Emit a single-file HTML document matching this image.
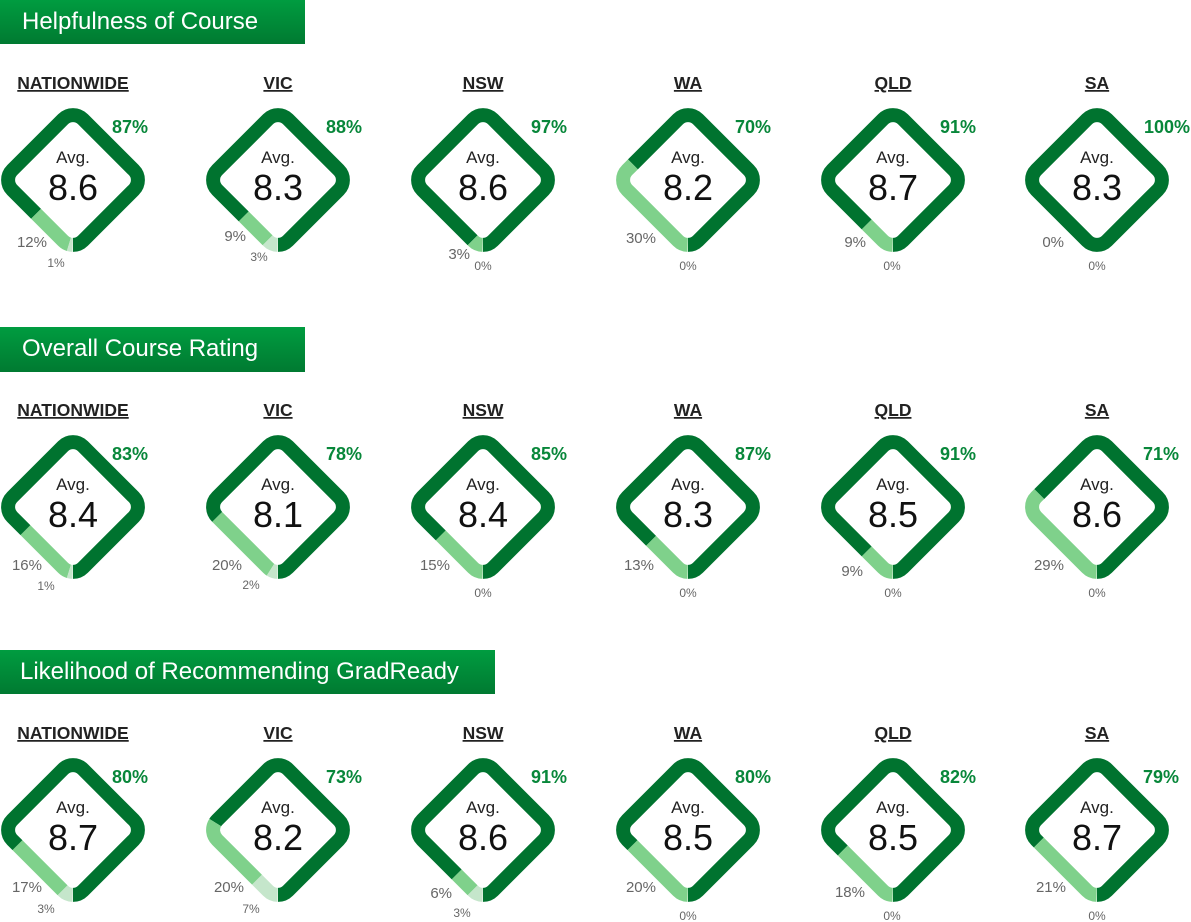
<!DOCTYPE html>
<html><head><meta charset="utf-8"><style>
html,body{margin:0;padding:0;background:#fff;}
svg{display:block;font-family:"Liberation Sans",sans-serif;}
.t{fill:#fff;font-size:24px;}
.h{font-size:17.5px;font-weight:bold;fill:#222;text-anchor:middle;text-decoration:underline;}
.av{font-size:17px;fill:#222;text-anchor:middle;}
.n{font-size:36px;fill:#111;text-anchor:middle;}
.p{font-size:18px;font-weight:bold;fill:#08873a;text-anchor:end;}
.l{font-size:15px;fill:#666;text-anchor:end;}
.s{font-size:12px;fill:#666;text-anchor:middle;}
</style></head><body>
<svg width="1191" height="922" viewBox="0 0 1191 922" xmlns="http://www.w3.org/2000/svg">
<defs>
<linearGradient id="g" x1="0" y1="0" x2="0" y2="1"><stop offset="0" stop-color="#009c40"/><stop offset="1" stop-color="#007a31"/></linearGradient>
<path id="d" pathLength="100" fill="none" stroke-width="14" d="M45.9,45.9 A14,14 0 0 0 50,36 L50,-36 A14,14 0 0 0 36,-50 L-36,-50 A14,14 0 0 0 -50,-36 L-50,36 A14,14 0 0 0 -36,50 L36,50 A14,14 0 0 0 45.9,45.9"/>
</defs>
<rect x="0" y="0" width="305" height="44" fill="url(#g)"/><text class="t" x="22" y="29">Helpfulness of Course</text>
<rect x="0" y="327" width="305" height="45" fill="url(#g)"/><text class="t" x="22" y="356">Overall Course Rating</text>
<rect x="0" y="650" width="495" height="44" fill="url(#g)"/><text class="t" x="20" y="679">Likelihood of Recommending GradReady</text>

<!-- ROW 1 -->
<text class="h" x="73" y="89">NATIONWIDE</text><text class="h" x="278" y="89">VIC</text><text class="h" x="483" y="89">NSW</text><text class="h" x="688" y="89">WA</text><text class="h" x="893" y="89">QLD</text><text class="h" x="1097" y="89">SA</text>

<g transform="translate(73,180) rotate(45)"><use href="#d" stroke="#00732f" stroke-dasharray="87 100"/><use href="#d" stroke="#7fd18b" stroke-dasharray="0 87 12 100"/><use href="#d" stroke="#c5e6cb" stroke-dasharray="0 99 1 100"/></g>
<text class="av" x="73" y="163">Avg.</text><text class="n" x="73" y="200">8.6</text><text class="p" x="148" y="133">87%</text><text class="l" x="47" y="247">12%</text><text class="s" x="56" y="267">1%</text>

<g transform="translate(278,180) rotate(45)"><use href="#d" stroke="#00732f" stroke-dasharray="88 100"/><use href="#d" stroke="#7fd18b" stroke-dasharray="0 88 9 100"/><use href="#d" stroke="#c5e6cb" stroke-dasharray="0 97 3 100"/></g>
<text class="av" x="278" y="163">Avg.</text><text class="n" x="278" y="200">8.3</text><text class="p" x="362" y="133">88%</text><text class="l" x="246" y="241">9%</text><text class="s" x="259" y="261">3%</text>

<g transform="translate(483,180) rotate(45)"><use href="#d" stroke="#00732f" stroke-dasharray="97 100"/><use href="#d" stroke="#7fd18b" stroke-dasharray="0 97 3 100"/></g>
<text class="av" x="483" y="163">Avg.</text><text class="n" x="483" y="200">8.6</text><text class="p" x="567" y="133">97%</text><text class="l" x="470" y="259">3%</text><text class="s" x="483" y="270">0%</text>

<g transform="translate(688,180) rotate(45)"><use href="#d" stroke="#00732f" stroke-dasharray="70 100"/><use href="#d" stroke="#7fd18b" stroke-dasharray="0 70 30 100"/></g>
<text class="av" x="688" y="163">Avg.</text><text class="n" x="688" y="200">8.2</text><text class="p" x="771" y="133">70%</text><text class="l" x="656" y="243">30%</text><text class="s" x="688" y="270">0%</text>

<g transform="translate(893,180) rotate(45)"><use href="#d" stroke="#00732f" stroke-dasharray="91 100"/><use href="#d" stroke="#7fd18b" stroke-dasharray="0 91 9 100"/></g>
<text class="av" x="893" y="163">Avg.</text><text class="n" x="893" y="200">8.7</text><text class="p" x="976" y="133">91%</text><text class="l" x="866" y="247">9%</text><text class="s" x="892" y="270">0%</text>

<g transform="translate(1097,180) rotate(45)"><use href="#d" stroke="#00732f" stroke-dasharray="100 0"/></g>
<text class="av" x="1097" y="163">Avg.</text><text class="n" x="1097" y="200">8.3</text><text class="p" x="1190" y="133">100%</text><text class="l" x="1064" y="247">0%</text><text class="s" x="1097" y="270">0%</text>

<!-- ROW 2 -->
<text class="h" x="73" y="416">NATIONWIDE</text><text class="h" x="278" y="416">VIC</text><text class="h" x="483" y="416">NSW</text><text class="h" x="688" y="416">WA</text><text class="h" x="893" y="416">QLD</text><text class="h" x="1097" y="416">SA</text>

<g transform="translate(73,507) rotate(45)"><use href="#d" stroke="#00732f" stroke-dasharray="83 100"/><use href="#d" stroke="#7fd18b" stroke-dasharray="0 83 16 100"/><use href="#d" stroke="#c5e6cb" stroke-dasharray="0 99 1 100"/></g>
<text class="av" x="73" y="490">Avg.</text><text class="n" x="73" y="527">8.4</text><text class="p" x="148" y="460">83%</text><text class="l" x="42" y="570">16%</text><text class="s" x="46" y="590">1%</text>

<g transform="translate(278,507) rotate(45)"><use href="#d" stroke="#00732f" stroke-dasharray="78 100"/><use href="#d" stroke="#7fd18b" stroke-dasharray="0 78 20 100"/><use href="#d" stroke="#c5e6cb" stroke-dasharray="0 98 2 100"/></g>
<text class="av" x="278" y="490">Avg.</text><text class="n" x="278" y="527">8.1</text><text class="p" x="362" y="460">78%</text><text class="l" x="242" y="570">20%</text><text class="s" x="251" y="589">2%</text>

<g transform="translate(483,507) rotate(45)"><use href="#d" stroke="#00732f" stroke-dasharray="85 100"/><use href="#d" stroke="#7fd18b" stroke-dasharray="0 85 15 100"/></g>
<text class="av" x="483" y="490">Avg.</text><text class="n" x="483" y="527">8.4</text><text class="p" x="567" y="460">85%</text><text class="l" x="450" y="570">15%</text><text class="s" x="483" y="597">0%</text>

<g transform="translate(688,507) rotate(45)"><use href="#d" stroke="#00732f" stroke-dasharray="87 100"/><use href="#d" stroke="#7fd18b" stroke-dasharray="0 87 13 100"/></g>
<text class="av" x="688" y="490">Avg.</text><text class="n" x="688" y="527">8.3</text><text class="p" x="771" y="460">87%</text><text class="l" x="654" y="570">13%</text><text class="s" x="688" y="597">0%</text>

<g transform="translate(893,507) rotate(45)"><use href="#d" stroke="#00732f" stroke-dasharray="91 100"/><use href="#d" stroke="#7fd18b" stroke-dasharray="0 91 9 100"/></g>
<text class="av" x="893" y="490">Avg.</text><text class="n" x="893" y="527">8.5</text><text class="p" x="976" y="460">91%</text><text class="l" x="863" y="576">9%</text><text class="s" x="893" y="597">0%</text>

<g transform="translate(1097,507) rotate(45)"><use href="#d" stroke="#00732f" stroke-dasharray="71 100"/><use href="#d" stroke="#7fd18b" stroke-dasharray="0 71 29 100"/></g>
<text class="av" x="1097" y="490">Avg.</text><text class="n" x="1097" y="527">8.6</text><text class="p" x="1179" y="460">71%</text><text class="l" x="1064" y="570">29%</text><text class="s" x="1097" y="597">0%</text>

<!-- ROW 3 -->
<text class="h" x="73" y="739">NATIONWIDE</text><text class="h" x="278" y="739">VIC</text><text class="h" x="483" y="739">NSW</text><text class="h" x="688" y="739">WA</text><text class="h" x="893" y="739">QLD</text><text class="h" x="1097" y="739">SA</text>

<g transform="translate(73,830) rotate(45)"><use href="#d" stroke="#00732f" stroke-dasharray="80 100"/><use href="#d" stroke="#7fd18b" stroke-dasharray="0 80 17 100"/><use href="#d" stroke="#c5e6cb" stroke-dasharray="0 97 3 100"/></g>
<text class="av" x="73" y="813">Avg.</text><text class="n" x="73" y="850">8.7</text><text class="p" x="148" y="783">80%</text><text class="l" x="42" y="892">17%</text><text class="s" x="46" y="913">3%</text>

<g transform="translate(278,830) rotate(45)"><use href="#d" stroke="#00732f" stroke-dasharray="73 100"/><use href="#d" stroke="#7fd18b" stroke-dasharray="0 73 20 100"/><use href="#d" stroke="#c5e6cb" stroke-dasharray="0 93 7 100"/></g>
<text class="av" x="278" y="813">Avg.</text><text class="n" x="278" y="850">8.2</text><text class="p" x="362" y="783">73%</text><text class="l" x="244" y="892">20%</text><text class="s" x="251" y="913">7%</text>

<g transform="translate(483,830) rotate(45)"><use href="#d" stroke="#00732f" stroke-dasharray="91 100"/><use href="#d" stroke="#7fd18b" stroke-dasharray="0 91 6 100"/><use href="#d" stroke="#c5e6cb" stroke-dasharray="0 97 3 100"/></g>
<text class="av" x="483" y="813">Avg.</text><text class="n" x="483" y="850">8.6</text><text class="p" x="567" y="783">91%</text><text class="l" x="452" y="898">6%</text><text class="s" x="462" y="917">3%</text>

<g transform="translate(688,830) rotate(45)"><use href="#d" stroke="#00732f" stroke-dasharray="80 100"/><use href="#d" stroke="#7fd18b" stroke-dasharray="0 80 20 100"/></g>
<text class="av" x="688" y="813">Avg.</text><text class="n" x="688" y="850">8.5</text><text class="p" x="771" y="783">80%</text><text class="l" x="656" y="892">20%</text><text class="s" x="688" y="920">0%</text>

<g transform="translate(893,830) rotate(45)"><use href="#d" stroke="#00732f" stroke-dasharray="82 100"/><use href="#d" stroke="#7fd18b" stroke-dasharray="0 82 18 100"/></g>
<text class="av" x="893" y="813">Avg.</text><text class="n" x="893" y="850">8.5</text><text class="p" x="976" y="783">82%</text><text class="l" x="865" y="897">18%</text><text class="s" x="892" y="920">0%</text>

<g transform="translate(1097,830) rotate(45)"><use href="#d" stroke="#00732f" stroke-dasharray="79 100"/><use href="#d" stroke="#7fd18b" stroke-dasharray="0 79 21 100"/></g>
<text class="av" x="1097" y="813">Avg.</text><text class="n" x="1097" y="850">8.7</text><text class="p" x="1179" y="783">79%</text><text class="l" x="1066" y="892">21%</text><text class="s" x="1097" y="920">0%</text>
</svg>
</body></html>
